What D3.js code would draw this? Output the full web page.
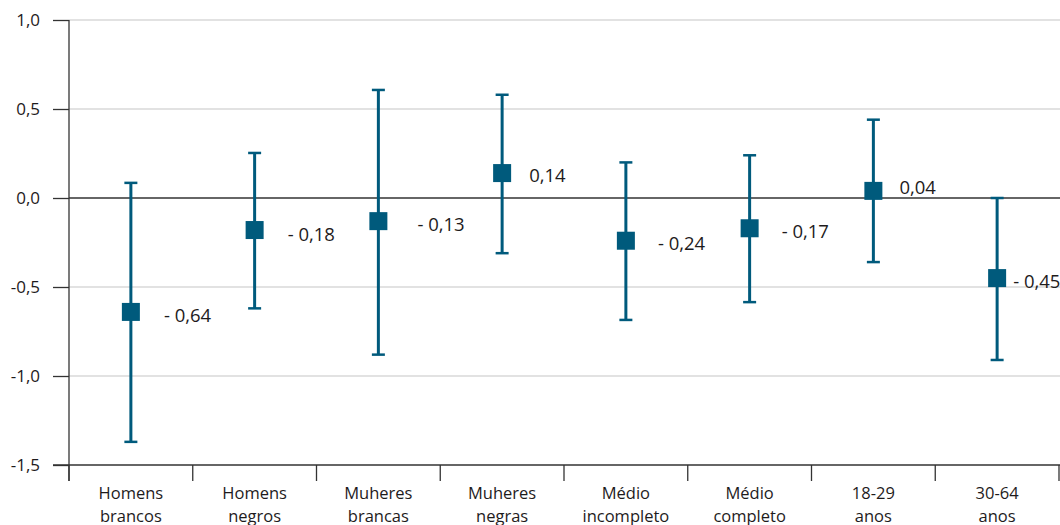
<!DOCTYPE html>
<html>
<head>
<meta charset="utf-8">
<script src="https://cdn.jsdelivr.net/npm/d3@7.9.0/dist/d3.min.js"></script>
<style>
  body { margin: 0; background: #fff; }
  svg { display: block; font-family: "Open Sans", "Noto Sans", sans-serif; }
</style>
</head>
<body>
<svg id="chart" width="1060" height="525"></svg>
<script>
const categories = [
  ['Homens', 'brancos'],
  ['Homens', 'negros'],
  ['Muheres', 'brancas'],
  ['Muheres', 'negras'],
  ['Médio', 'incompleto'],
  ['Médio', 'completo'],
  ['18-29', 'anos'],
  ['30-64', 'anos']
];
const estimates = [-0.64, -0.18, -0.13, 0.14, -0.24, -0.17, 0.04, -0.45];
const lowerBounds = [-1.37, -0.62, -0.88, -0.31, -0.685, -0.585, -0.36, -0.91];
const upperBounds = [0.085, 0.253, 0.607, 0.58, 0.20, 0.24, 0.44, 0.0];
const yTicks = [-1.5, -1.0, -0.5, 0.0, 0.5, 1.0];

// label offsets from marker centre (layout only)
const labelDx = [33, 33, 39, 27, 32, 32, 26, 16];
const labelDy = [4, 4, 3, 2, 3, 3, -3, 3];

const margin = { top: 20, right: 1, bottom: 60, left: 69 };
const width = 1060, height = 525;
const color = '#005a7c';
const ink = '#1e1b1c';

const svg = d3.select('#chart');

const fmt = (v) => d3.format('.1f')(v).replace('.', ',').replace('−', '-');
const fmtVal = (v) => (v < 0 ? '- ' : '') + d3.format('.2f')(Math.abs(v)).replace('.', ',');

let x = d3.scaleBand()
  .domain(d3.range(categories.length))
  .range([margin.left, width - margin.right])
  .padding(0);

let y = d3.scaleLinear()
  .domain([-1.5, 1.0])
  .range([height - margin.bottom, margin.top]);

// gridlines
svg.append('g')
  .selectAll('line')
  .data(yTicks.filter((t) => t !== 0 && t !== -1.5))
  .join('line')
  .attr('x1', margin.left)
  .attr('x2', width)
  .attr('y1', (d) => y(d))
  .attr('y2', (d) => y(d))
  .attr('stroke', '#d9d9d9')
  .attr('stroke-width', 1.3);

// zero line
svg.append('line')
  .attr('x1', margin.left)
  .attr('x2', width)
  .attr('y1', y(0))
  .attr('y2', y(0))
  .attr('stroke', '#333')
  .attr('stroke-width', 1.3);

// y axis
let yAxis = svg.append('g')
  .attr('transform', `translate(${margin.left},0)`)
  .call(d3.axisLeft(y).tickValues(yTicks).tickFormat(fmt).tickSize(16).tickPadding(13));
yAxis.select('.domain').remove();
yAxis.selectAll('line').attr('stroke', '#333').attr('stroke-width', 1.3);
yAxis.selectAll('text')
  .attr('font-size', 17)
  .attr('fill', ink)
  .attr('font-family', '"Open Sans", sans-serif');

svg.append('line')
  .attr('x1', margin.left)
  .attr('x2', margin.left)
  .attr('y1', margin.top)
  .attr('y2', height - margin.bottom + 16)
  .attr('stroke', '#333')
  .attr('stroke-width', 1.3);

// x axis
svg.append('line')
  .attr('x1', margin.left - 16)
  .attr('x2', width)
  .attr('y1', y(-1.5))
  .attr('y2', y(-1.5))
  .attr('stroke', '#333')
  .attr('stroke-width', 1.3);

let boundaries = d3.range(categories.length + 1).map((i) =>
  i < categories.length ? x(i) : x(categories.length - 1) + x.bandwidth());

svg.append('g')
  .selectAll('line')
  .data(boundaries)
  .join('line')
  .attr('x1', (d) => d)
  .attr('x2', (d) => d)
  .attr('y1', y(-1.5))
  .attr('y2', y(-1.5) + 16)
  .attr('stroke', '#333')
  .attr('stroke-width', 1.3);

let catText = svg.append('g')
  .selectAll('text')
  .data(categories)
  .join('text')
  .attr('text-anchor', 'middle')
  .attr('font-size', 16.5)
  .attr('fill', ink);

catText.each(function (d, i) {
  let t = d3.select(this);
  d.forEach((line, j) => {
    t.append('tspan')
      .attr('x', x(i) + x.bandwidth() / 2)
      .attr('y', 499 + j * 22.5)
      .text(line);
  });
});

// error bars
let cx = (i) => x(i) + x.bandwidth() / 2;

let bars = svg.append('g');
estimates.forEach((v, i) => {
  bars.append('line')
    .attr('x1', cx(i)).attr('x2', cx(i))
    .attr('y1', y(upperBounds[i])).attr('y2', y(lowerBounds[i]))
    .attr('stroke', color).attr('stroke-width', 3);
  [upperBounds[i], lowerBounds[i]].forEach((b) => {
    bars.append('line')
      .attr('x1', cx(i) - 6.5).attr('x2', cx(i) + 6.5)
      .attr('y1', y(b)).attr('y2', y(b))
      .attr('stroke', color).attr('stroke-width', 2.5);
  });
  bars.append('rect')
    .attr('x', cx(i) - 9).attr('y', y(v) - 9)
    .attr('width', 18).attr('height', 18)
    .attr('fill', color);
  bars.append('text')
    .attr('x', cx(i) + labelDx[i])
    .attr('y', y(v) + labelDy[i])
    .attr('dy', '0.35em')
    .attr('font-size', 18.5)
    .attr('fill', ink)
    .text(fmtVal(v));
});
</script>
</body>
</html>
